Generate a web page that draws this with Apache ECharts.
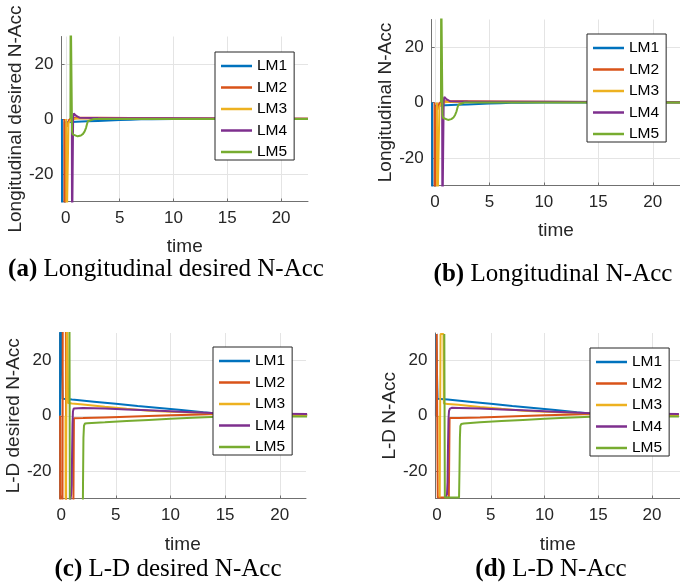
<!DOCTYPE html>
<html>
<head>
<meta charset="utf-8">
<script src="https://cdn.jsdelivr.net/npm/echarts@6/dist/echarts.min.js"></script>
<style>
html, body { margin: 0; padding: 0; background: #fff; }
#chart { width: 680px; height: 585px; }
</style>
</head>
<body>
<div id="chart"></div>
<script>
// Series names and MATLAB-style line colours
const seriesNames = ['LM1', 'LM2', 'LM3', 'LM4', 'LM5'];
const lineColors = ['#0072BD', '#D95319', '#EDB120', '#7E2F8E', '#77AC30'];

// Tick values shared by all four panels
const timeTicks = [0, 5, 10, 15, 20];
const accTicks = [-20, 0, 20];

// Axis titles and captions
const yTitles = ['Longitudinal desired N-Acc', 'Longitudinal N-Acc', 'L-D desired N-Acc', 'L-D N-Acc'];
const xTitle = 'time';
const captionTags = ['(a)', '(b)', '(c)', '(d)'];
const captionTexts = ['Longitudinal desired N-Acc', 'Longitudinal N-Acc', 'L-D desired N-Acc', 'L-D N-Acc'];

// (a) Longitudinal desired N-Acc, [time, value]
const lonDesLM1 = [[-0.36,0],[-0.34,-45],[-0.12,-45],[-0.1,-1.2],[0.5,-1.1],[1,-1.0],[2,-0.85],[3,-0.7],[4,-0.55],[5,-0.4],[6,-0.25],[7,-0.12],[8,-0.05],[10,0],[15,0],[22.5,0]];
const lonDesLM2 = [[-0.14,0],[-0.12,-45],[-0.02,-45],[0.0,-3.2],[0.06,-1.6],[0.12,-2.8],[0.2,-1.5],[0.3,-0.4],[0.5,0.3],[1,0.45],[3,0.45],[6,0.4],[10,0.3],[15,0.2],[22.5,0.1]];
const lonDesLM3 = [[0.04,0],[0.06,-45],[0.22,-45],[0.25,-1.5],[0.35,-0.8],[0.5,-0.2],[1,0.2],[3,0.2],[10,0.15],[22.5,0.05]];
const lonDesLM4 = [[0.56,0],[0.58,-45],[0.64,-45],[0.68,0.5],[0.74,2.0],[0.8,2.6],[0.86,2.2],[0.94,1.2],[1.04,0.6],[1.3,0.45],[3,0.4],[10,0.3],[22.5,0.1]];
const lonDesLM5 = [[0.43,0],[0.45,45],[0.52,45],[0.58,-4.5],[0.65,-5.6],[0.8,-6.2],[1.1,-6.3],[1.4,-6.0],[1.6,-5.4],[1.75,-4.5],[1.88,-3.2],[1.97,-1.8],[2.05,-0.8],[2.2,-0.2],[2.6,0],[10,0],[22.5,0]];

// (b) Longitudinal N-Acc
const lonLM1 = [[-0.26,0],[-0.24,-45],[-0.02,-45],[0.0,-1.2],[0.5,-1.1],[1,-1.0],[2,-0.85],[3,-0.7],[4,-0.55],[5,-0.4],[6,-0.25],[7,-0.12],[8,-0.05],[10,0],[22.5,0]];
const lonLM2 = [[-0.04,0],[-0.02,-45],[0.06,-45],[0.1,-3.0],[0.16,-1.4],[0.22,-2.6],[0.3,-1.2],[0.4,-0.3],[0.6,0.3],[1,0.45],[3,0.45],[6,0.4],[10,0.3],[15,0.2],[22.5,0.1]];
const lonLM3 = [[0.18,0],[0.2,-45],[0.38,-45],[0.41,-1.4],[0.5,-0.7],[0.7,-0.1],[1.1,0.2],[3,0.2],[10,0.15],[22.5,0.05]];
const lonLM4 = [[0.66,0],[0.68,-45],[0.76,-45],[0.8,0.5],[0.86,2.0],[0.92,2.6],[0.98,2.2],[1.05,1.2],[1.15,0.6],[1.4,0.45],[3,0.4],[10,0.3],[22.5,0.1]];
const lonLM5 = [[0.55,0],[0.57,45],[0.63,45],[0.69,-4.5],[0.76,-5.6],[0.9,-6.2],[1.2,-6.3],[1.5,-6.0],[1.7,-5.4],[1.85,-4.5],[1.98,-3.2],[2.07,-1.8],[2.15,-0.8],[2.3,-0.2],[2.7,0],[10,0],[22.5,0]];

// (c) L-D desired N-Acc
const ldDesLM1 = [[-0.1,0],[-0.08,45],[0.1,45],[0.14,6.2],[1,5.85],[3,5.1],[5,4.35],[7,3.55],[9,2.8],[11,2.05],[13,1.3],[14.3,0.85],[16,0.6],[18,0.45],[20,0.3],[22.5,0.2]];
const ldDesLM2 = [[-0.09,0],[-0.07,-45],[0.12,-45],[0.15,45],[0.43,45],[0.46,-45],[1.1,-45],[1.17,-0.9],[2,-0.85],[4,-0.6],[6,-0.35],[8,-0.1],[10,0.15],[12,0.4],[14.3,0.65],[17,0.5],[20,0.35],[22.5,0.25]];
const ldDesLM3 = [[0.4,0],[0.42,-45],[0.5,-45],[0.53,45],[0.6,45],[0.64,4.6],[1,4.45],[2,4.05],[4,3.25],[6,2.5],[8,1.85],[10,1.45],[12,1.15],[14.3,0.85],[17,0.55],[20,0.4],[22.5,0.3]];
const ldDesLM4 = [[0.82,-45],[0.86,-30],[0.92,-28.5],[0.97,-25],[1.0,-14],[1.04,-3],[1.08,1.5],[1.15,2.6],[1.3,2.9],[2,2.85],[4,2.6],[6,2.3],[8,2.0],[10,1.65],[12,1.3],[14.3,0.95],[17,0.8],[20,0.7],[22.5,0.6]];
const ldDesLM5 = [[0.76,45],[0.8,-45],[1.97,-45],[2.0,-25],[2.04,-8],[2.09,-3.6],[2.18,-2.8],[2.4,-2.7],[4,-2.35],[6,-1.9],[8,-1.5],[10,-1.1],[12,-0.7],[14.3,-0.35],[17,-0.3],[20,-0.25],[22.5,-0.25]];

// (d) L-D N-Acc (saturated at +/-30)
const ldLM1 = [[-0.1,0],[-0.08,29.6],[0.02,29.6],[0.05,6.2],[1,5.85],[3,5.1],[5,4.35],[7,3.55],[9,2.8],[11,2.05],[13,1.3],[14.3,0.85],[16,0.6],[18,0.45],[20,0.3],[22.5,0.2]];
const ldLM2 = [[-0.05,0],[-0.03,29.6],[0.03,29.6],[0.07,-29.6],[1.1,-29.6],[1.17,-0.8],[2,-0.8],[4,-0.6],[6,-0.35],[8,-0.1],[10,0.15],[12,0.4],[14.3,0.65],[17,0.5],[20,0.35],[22.5,0.25]];
const ldLM3 = [[0.22,0],[0.25,-29.6],[0.3,-29.6],[0.33,29.6],[0.6,29.6],[0.64,4.4],[1,4.3],[2,3.95],[4,3.2],[6,2.5],[8,1.85],[10,1.45],[12,1.15],[14.3,0.85],[17,0.55],[20,0.4],[22.5,0.3]];
const ldLM4 = [[0.78,-29.6],[0.86,-29.2],[0.93,-28.5],[0.98,-24],[1.02,-12],[1.07,-1],[1.12,1.8],[1.2,2.6],[1.4,2.9],[2,2.85],[4,2.6],[6,2.3],[8,2.0],[10,1.65],[12,1.3],[14.3,0.95],[17,0.8],[20,0.7],[22.5,0.6]];
const ldLM5 = [[0.68,29.6],[0.73,-29.6],[2.05,-29.6],[2.09,-20],[2.13,-8],[2.17,-3.8],[2.25,-3.0],[2.5,-2.8],[4,-2.4],[6,-1.9],[8,-1.5],[10,-1.1],[12,-0.7],[14.3,-0.35],[17,-0.3],[20,-0.25],[22.5,-0.25]];

const panelData = [
  [lonDesLM1, lonDesLM2, lonDesLM3, lonDesLM4, lonDesLM5],
  [lonLM1, lonLM2, lonLM3, lonLM4, lonLM5],
  [ldDesLM1, ldDesLM2, ldDesLM3, ldDesLM4, ldDesLM5],
  [ldLM1, ldLM2, ldLM3, ldLM4, ldLM5]
];

// Panel layout (pixels) and axis ranges
const panels = [
  { grid: { left: 61.5, top: 36.5, width: 246.5, height: 165 }, xMin: -0.4, xMax: 22.5, xGap: 36, legend: { left: 215, top: 52 }, caption: { x: 166, y: 257 } },
  { grid: { left: 431.7, top: 19.5, width: 249, height: 166 }, xMin: -0.3, xMax: 22.5, xGap: 36, legend: { left: 587, top: 34 }, caption: { x: 553, y: 262 } },
  { grid: { left: 59.5, top: 333, width: 246.5, height: 165.5 }, xMin: -0.15, xMax: 22.4, xGap: 37, legend: { left: 213, top: 347 }, caption: { x: 168, y: 557 } },
  { grid: { left: 435.5, top: 333, width: 250, height: 165.5 }, xMin: -0.14, xMax: 22.6, xGap: 37, legend: { left: 590, top: 348 }, caption: { x: 551, y: 557 } }
];

const sansFont = '"Liberation Sans", Arial, Helvetica, sans-serif';
const serifFont = '"Liberation Serif", "Times New Roman", serif';
const axisColor = '#707070';
const textColor = '#262626';
const gridColor = '#e4e4e4';

const option = {
  animation: false,
  backgroundColor: '#fff',
  grid: [], xAxis: [], yAxis: [], legend: [], title: [], series: []
};

panels.forEach(function (p, i) {
  option.grid.push(Object.assign({ containLabel: false }, p.grid));
  option.xAxis.push({
    type: 'value', gridIndex: i, min: p.xMin, max: p.xMax,
    name: xTitle, nameLocation: 'middle', nameGap: p.xGap,
    nameTextStyle: { fontFamily: sansFont, fontSize: 19, color: textColor },
    axisLine: { show: true, onZero: false, lineStyle: { color: axisColor, width: 1 } },
    axisTick: { show: true, inside: true, length: 3, customValues: timeTicks, lineStyle: { color: axisColor } },
    axisLabel: { customValues: timeTicks, fontFamily: sansFont, fontSize: 17, color: textColor, margin: 8 },
    splitLine: { show: true, lineStyle: { color: gridColor, width: 1 } }
  });
  option.yAxis.push({
    type: 'value', gridIndex: i, min: -30, max: 30,
    name: yTitles[i], nameLocation: 'middle', nameGap: 36, nameRotate: 90,
    nameTextStyle: { fontFamily: sansFont, fontSize: 19, color: textColor },
    axisLine: { show: true, onZero: false, lineStyle: { color: axisColor, width: 1 } },
    axisTick: { show: true, inside: true, length: 3, customValues: accTicks, lineStyle: { color: axisColor } },
    axisLabel: { customValues: accTicks, fontFamily: sansFont, fontSize: 17, color: textColor, margin: 8 },
    splitLine: { show: true, lineStyle: { color: gridColor, width: 1 } }
  });
  option.legend.push({
    left: p.legend.left, top: p.legend.top, orient: 'vertical',
    data: seriesNames, selectedMode: false,
    icon: 'rect', itemWidth: 31, itemHeight: 2.5, itemGap: 5.5, padding: [6, 7, 0, 6],
    backgroundColor: '#fff', borderColor: '#262626', borderWidth: 1, borderRadius: 0,
    textStyle: { fontFamily: sansFont, fontSize: 15.5, lineHeight: 16, color: '#000' }
  });
  option.title.push({
    text: '{b|' + captionTags[i] + '} ' + captionTexts[i],
    left: p.caption.x, top: p.caption.y, padding: 0,
    textAlign: 'center', textVerticalAlign: 'top',
    textStyle: {
      fontFamily: serifFont, fontSize: 25, fontWeight: 'normal', color: '#000',
      rich: { b: { fontFamily: serifFont, fontSize: 25, fontWeight: 'bold', color: '#000' } }
    }
  });
  panelData[i].forEach(function (data, k) {
    option.series.push({
      type: 'line', name: seriesNames[k], xAxisIndex: i, yAxisIndex: i,
      data: data, symbol: 'none', showSymbol: false, clip: true, silent: true,
      lineStyle: { color: lineColors[k], width: 2 },
      itemStyle: { color: lineColors[k] }
    });
  });
});

const chart = echarts.init(document.getElementById('chart'), null, { renderer: 'canvas' });
chart.setOption(option);
</script>
</body>
</html>
